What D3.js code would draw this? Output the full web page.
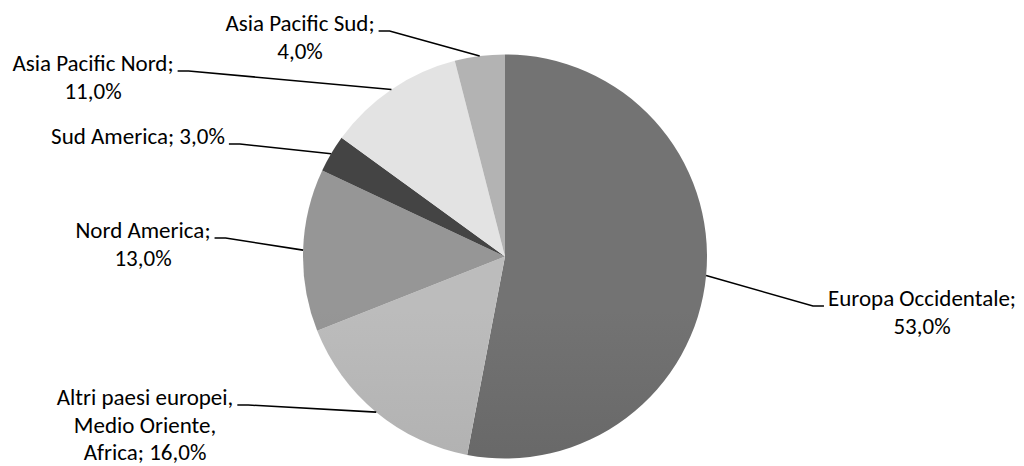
<!DOCTYPE html>
<html>
<head>
<meta charset="utf-8">
<script src="https://cdn.jsdelivr.net/npm/d3@7"></script>
<style>
  html, body { margin: 0; padding: 0; background: #ffffff; }
  svg { display: block; }
  text { font-family: Carlito, Lato, "Open Sans", sans-serif; font-size: 23px; fill: #000; }
</style>
</head>
<body>
<svg id="chart" width="1024" height="466"></svg>
<script>
// Regional share of revenue, clockwise from 12 o'clock
const regions = [
  "Europa Occidentale",
  "Altri paesi europei, Medio Oriente, Africa",
  "Nord America",
  "Sud America",
  "Asia Pacific Nord",
  "Asia Pacific Sud"
];
const shares = [53.0, 16.0, 13.0, 3.0, 11.0, 4.0];

// Label text, one entry per line
const labelLines = [
  ["Europa Occidentale;", "53,0%"],
  ["Altri paesi europei,", "Medio Oriente,", "Africa; 16,0%"],
  ["Nord America;", "13,0%"],
  ["Sud America; 3,0%"],
  ["Asia Pacific Nord;", "11,0%"],
  ["Asia Pacific Sud;", "4,0%"]
];

// Fill gradients (top, bottom) for each slice
const sliceShades = [
  ["#737373", "#565656"],
  ["#bcbcbc", "#a0a0a0"],
  ["#969696", "#787878"],
  ["#444444", "#1e1e1e"],
  ["#e3e3e3", "#c9c9c9"],
  ["#b3b3b3", "#9f9f9f"]
];

// Label placement: centre x of the text block, centre y of the first line, side of the pie
const labelLayout = [
  { cx: 922, cy: 300, side: "right" },
  { cx: 145, cy: 399, side: "left" },
  { cx: 143, cy: 232, side: "left" },
  { cx: 138, cy: 138, side: "left" },
  { cx: 93,  cy: 65,  side: "left" },
  { cx: 300, cy: 25,  side: "left" }
];

const svg = d3.select("#chart");
const cx = 505, cy = 256.5, R = 202;
const lineGap = 27.5;

const pie = d3.pie().sort(null).value(d => d)
  .startAngle(0).endAngle(2 * Math.PI);
const arcs = pie(shares);
const arc = d3.arc().innerRadius(0).outerRadius(R);

const defs = svg.append("defs");
sliceShades.forEach((c, i) => {
  const g = defs.append("linearGradient")
    .attr("id", "shade" + i)
    .attr("gradientUnits", "userSpaceOnUse")
    .attr("x1", 0).attr("y1", cy - R)
    .attr("x2", 0).attr("y2", cy + R);
  g.append("stop").attr("offset", "0%").attr("stop-color", c[0]);
  g.append("stop").attr("offset", "100%").attr("stop-color", c[1]);
});

const pieG = svg.append("g").attr("transform", `translate(${cx},${cy})`);
pieG.selectAll("path.slice")
  .data(arcs)
  .join("path")
  .attr("class", "slice")
  .attr("d", arc)
  .attr("fill", (d, i) => `url(#shade${i})`);

// Labels and leader lines
const labelG = svg.append("g");
arcs.forEach((a, i) => {
  const L = labelLayout[i];
  const t = labelG.append("text")
    .attr("text-anchor", "middle");
  labelLines[i].forEach((line, k) => {
    t.append("tspan")
      .attr("x", L.cx)
      .attr("y", L.cy + k * lineGap)
      .attr("dy", "0.27em")
      .text(line);
  });
  const first = t.select("tspan").node();
  const w = first.getComputedTextLength();
  const yLine = L.cy + 6;
  const mid = (a.startAngle + a.endAngle) / 2;
  const px = cx + R * Math.sin(mid);
  const py = cy - R * Math.cos(mid);
  let x0, x1;
  if (L.side === "left") {
    x0 = L.cx + w / 2 + 4;
    x1 = x0 + 11;
  } else {
    x0 = L.cx - w / 2 - 4;
    x1 = x0 - 11;
  }
  labelG.append("path")
    .attr("d", d3.line()([[x0, yLine], [x1, yLine], [px, py]]))
    .attr("fill", "none")
    .attr("stroke", "#000")
    .attr("stroke-width", 1.6);
});
</script>
</body>
</html>
